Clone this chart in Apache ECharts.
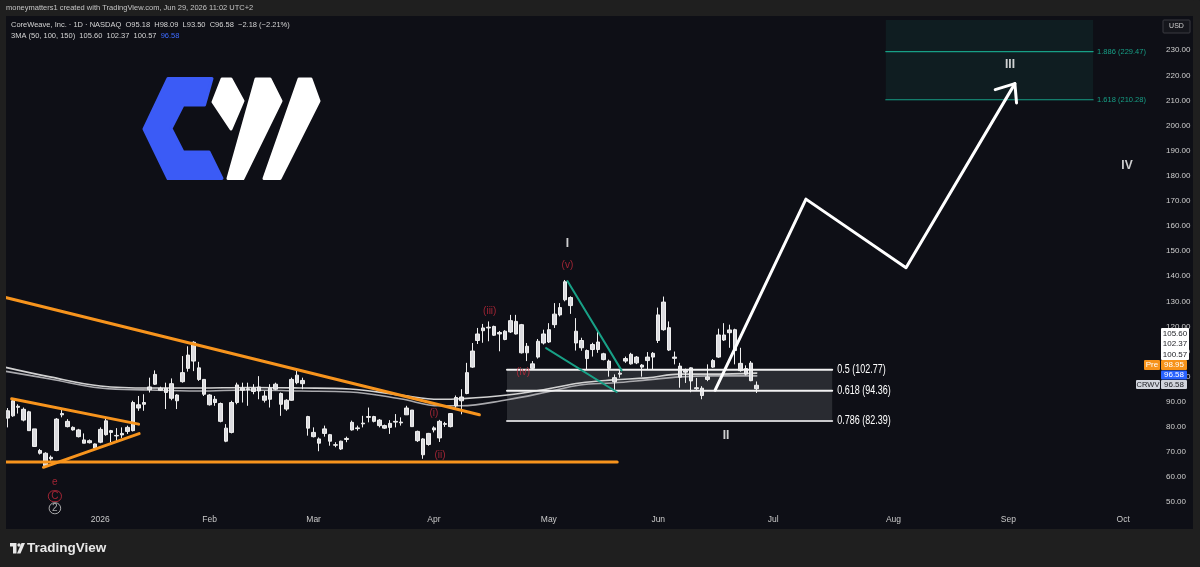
<!DOCTYPE html>
<html>
<head>
<meta charset="utf-8">
<style>
  html, body { margin: 0; padding: 0; background: #1f1f1f; }
  #main { width: 1200px; height: 567px; }
</style>
<script src="https://cdn.jsdelivr.net/npm/echarts@6/dist/echarts.min.js"></script>
</head>
<body>
<div id="main"></div>
<script>
// ---- calendar (NASDAQ trading days, first visible bar Dec 8 2025) ----
const startDay = '2025-12-08';
const dayCount = 206;
const holidays = ['2025-12-25', '2026-01-01', '2026-01-19', '2026-02-16', '2026-04-03',
                  '2026-05-25', '2026-06-19', '2026-07-03', '2026-09-07'];
const monthNames = ['2026', 'Feb', 'Mar', 'Apr', 'May', 'Jun', 'Jul', 'Aug', 'Sep', 'Oct', 'Nov', 'Dec'];

// ---- daily candles: [open, close, low, high] ----
const candles = [
  [86.4, 83.5, 79.8, 87.5], [84.4, 90.4, 84.0, 91.0], [88.2, 87.8, 85.3, 89.0], [87.0, 82.7, 82.2, 87.7],
  [86.0, 78.5, 78.5, 86.4], [79.2, 72.2, 72.0, 79.2], [70.6, 69.5, 69.0, 71.2], [69.5, 64.6, 64.0, 69.9],
  [67.3, 67.9, 66.6, 68.6], [70.6, 83.1, 70.3, 83.5], [85.3, 84.8, 83.8, 87.0], [82.2, 80.1, 79.8, 83.1],
  [79.8, 78.8, 78.5, 80.2], [78.8, 76.1, 75.8, 79.2], [74.8, 73.5, 73.5, 77.4], [74.5, 73.7, 73.4, 75.0],
  [73.2, 71.6, 71.4, 73.4], [73.9, 79.0, 73.5, 79.8], [76.9, 82.4, 76.5, 83.5], [78.5, 77.8, 73.9, 78.8],
  [76.6, 76.4, 74.3, 79.5], [76.8, 77.4, 75.6, 79.8], [78.2, 79.8, 77.2, 80.5], [78.5, 89.7, 78.2, 90.4],
  [88.8, 87.5, 86.4, 92.3], [89.0, 89.7, 86.4, 93.0], [94.8, 95.9, 93.7, 99.6], [97.0, 100.9, 96.7, 102.5],
  [95.4, 94.6, 94.3, 96.0], [95.4, 93.7, 87.1, 97.6], [91.4, 97.2, 90.6, 99.3], [92.7, 90.4, 87.1, 93.0],
  [98.0, 101.6, 97.6, 108.2], [103.3, 108.6, 102.0, 112.1], [106.2, 113.7, 102.2, 114.1], [103.5, 98.9, 98.3, 105.9],
  [98.9, 93.0, 92.3, 98.9], [92.7, 88.8, 88.5, 93.0], [91.0, 89.7, 88.4, 92.3], [89.3, 82.2, 81.8, 89.7],
  [79.5, 74.3, 73.9, 81.1], [77.8, 89.7, 77.4, 90.4], [89.7, 96.7, 89.0, 97.6], [95.4, 94.6, 89.7, 97.6],
  [94.8, 95.2, 88.4, 97.6], [95.4, 94.1, 93.0, 97.0], [94.3, 95.9, 91.0, 100.2], [92.3, 90.6, 89.7, 94.3],
  [91.0, 95.4, 87.7, 97.0], [95.0, 97.0, 94.6, 97.6], [93.3, 89.0, 84.4, 93.7], [90.6, 87.1, 86.4, 91.0],
  [90.6, 98.9, 90.4, 99.6], [97.6, 100.6, 97.0, 102.5], [98.5, 97.2, 95.0, 99.6], [84.1, 79.5, 76.5, 84.4],
  [77.8, 76.1, 75.8, 79.8], [75.2, 73.5, 70.3, 75.8], [77.4, 79.2, 76.1, 80.5], [76.9, 74.3, 72.5, 77.2],
  [72.9, 72.7, 71.9, 73.9], [74.3, 71.2, 70.8, 74.5], [75.0, 75.4, 73.9, 76.1], [78.8, 81.8, 78.5, 82.5],
  [79.3, 79.6, 78.5, 80.5], [81.2, 81.5, 79.8, 84.4], [83.8, 84.1, 81.8, 87.7], [84.1, 82.2, 81.8, 84.4],
  [82.7, 80.5, 79.8, 83.1], [80.5, 79.5, 79.2, 80.9], [79.8, 81.4, 77.2, 82.7], [81.9, 82.2, 79.8, 85.1],
  [81.6, 81.9, 80.5, 83.8], [84.8, 87.5, 84.8, 88.4], [86.7, 80.1, 80.1, 86.7], [78.2, 74.5, 74.0, 78.5],
  [75.2, 68.9, 67.3, 75.5], [73.0, 77.4, 72.5, 77.6], [78.8, 79.6, 77.8, 80.2], [75.6, 82.2, 74.0, 82.8],
  [81.0, 81.3, 80.0, 82.0], [80.1, 85.3, 79.8, 85.5], [88.4, 91.7, 87.0, 92.5], [90.4, 91.9, 85.0, 95.0],
  [93.3, 101.6, 93.0, 105.5], [103.8, 110.2, 103.5, 113.4], [114.4, 117.0, 113.0, 119.4], [118.3, 119.4, 113.5, 121.0],
  [119.4, 119.7, 114.1, 122.0], [120.0, 116.5, 116.2, 120.3], [117.0, 117.6, 110.1, 118.2], [114.8, 118.1, 114.5, 118.5],
  [117.8, 122.3, 117.4, 124.6], [122.0, 117.0, 116.8, 124.6], [120.7, 109.5, 109.2, 121.0], [109.5, 112.1, 106.2, 113.4],
  [105.1, 103.3, 102.9, 106.2], [107.8, 114.1, 107.2, 115.0], [113.4, 117.0, 112.8, 118.7], [113.8, 118.7, 113.4, 121.3],
  [120.7, 124.9, 119.4, 129.3], [124.6, 127.5, 124.0, 129.3], [130.6, 137.8, 130.0, 138.5], [131.5, 128.3, 125.0, 132.0],
  [118.1, 113.4, 110.4, 123.3], [114.4, 111.5, 110.3, 115.5], [110.4, 107.2, 102.9, 110.8], [110.8, 112.8, 108.0, 113.5],
  [110.8, 113.8, 109.5, 118.0], [109.1, 106.8, 106.5, 109.5], [106.2, 103.3, 100.0, 106.8], [99.6, 98.0, 94.6, 100.9],
  [101.0, 101.4, 99.6, 102.7], [106.2, 107.2, 105.5, 108.0], [105.1, 108.9, 104.8, 109.5], [107.8, 105.5, 105.0, 108.2],
  [104.6, 103.8, 100.0, 105.0], [106.4, 107.8, 103.0, 109.8], [107.8, 109.3, 103.0, 109.8], [114.4, 124.6, 113.4, 127.5],
  [118.7, 129.7, 118.3, 131.9], [119.5, 110.6, 110.2, 122.0], [107.8, 107.3, 104.9, 110.0], [104.2, 99.8, 95.6, 105.5],
  [102.4, 101.8, 97.5, 103.2], [103.5, 98.3, 93.8, 103.7], [95.6, 95.2, 94.3, 99.5], [95.4, 92.5, 91.0, 96.2],
  [98.9, 99.9, 98.2, 104.9], [103.8, 106.4, 103.5, 107.0], [107.8, 116.6, 107.5, 119.1], [114.6, 116.6, 114.2, 121.3],
  [117.5, 118.6, 111.5, 120.7], [118.7, 110.4, 104.9, 119.1], [105.3, 102.4, 102.0, 111.5], [103.2, 101.0, 100.5, 104.5],
  [105.4, 98.4, 98.2, 106.2], [95.18, 96.58, 93.50, 98.09]
];

// ---- moving averages (bar index -> value) ----
const maIdx  = [-0.5, 7.8, 17, 26, 35, 44, 53.5, 62.6, 71.8, 79, 82.8, 91.4, 98.7, 104.7, 110.7, 117, 123, 129, 137];
const maUpper = [103.8, 99.9, 96.3, 95.5, 95.5, 95.7, 95.5, 95.1, 92.7, 91.0, 91.2, 92.7, 95.1, 97.5, 98.7, 99.5, 101.0, 101.0, 101.4];
const maLower = [102.2, 99.1, 95.5, 94.7, 94.3, 94.7, 94.3, 93.9, 91.2, 88.4, 88.4, 90.8, 93.9, 96.7, 97.5, 98.7, 99.9, 100.3, 100.3];

// ---- drawings in [bar index, price] ----
const orangeLines = [
  [[-0.5, 131.6], [86.3, 84.8]],
  [[-0.5, 66.0], [111.5, 66.0]],
  [[0.8, 91.2], [24.0, 81.1]],
  [[6.6, 63.9], [24.1, 77.3]]
];
const tealLines = [
  [[102.4, 138.1], [112.3, 102.5]],
  [[98.5, 111.4], [111.4, 93.9]]
];
const projection = [[129.4, 94.6], [146.0, 170.7], [164.3, 143.4], [184.2, 216.7]];
const arrowHead  = [[180.6, 214.3], [184.2, 216.7], [184.5, 209.0]];

const fibFrom = 91.35, fibTo = 150.8;
const fibLevels = [102.77, 94.36, 82.39];
const fibLabels = ['0.5 (102.77)', '0.618 (94.36)', '0.786 (82.39)'];

const extFrom = 160.6, extTo = 198.5, extTop = 242;
const extLevels = [229.47, 210.28];
const extLabels = ['1.886 (229.47)', '1.618 (210.28)'];

const waveText  = ['I', '(v)', '(iii)', '(iv)', '(i)', '(ii)', 'II', 'III', 'IV', 'e', 'C', '2'];
const waveX     = [102.4, 102.4, 88.2, 94.3, 78.0, 79.1, 131.4, 183.3, 204.7, 8.7, 8.7, 8.7];
const waveY     = [152.9, 144.2, 126.0, 101.8, 85.6, 68.6, 76.5, 224.1, 184.1, 57.9, 52.4, 47.6];
const waveColor = ['#ffffff', '#c42a3c', '#c42a3c', '#c42a3c', '#c42a3c', '#c42a3c', '#ffffff', '#ffffff', '#ffffff', '#c42a3c', '#c42a3c', '#d0d0d0'];

// ---------------------------------------------------------------------
const tradingDays = (start, n) => {
  const out = [];
  const d = new Date(start + 'T12:00:00Z');
  while (out.length < n) {
    const s = d.toISOString().slice(0, 10);
    const wd = d.getUTCDay();
    if (wd !== 0 && wd !== 6 && holidays.indexOf(s) < 0) out.push(s);
    d.setUTCDate(d.getUTCDate() + 1);
  }
  return out;
};
const days = tradingDays(startDay, dayCount);
const isMonthStart = i => i > 0 && days[i].slice(5, 7) !== days[i - 1].slice(5, 7);

const FONT = 'Liberation Sans, Arial, sans-serif';
const PANEL = '#0e0f16', FRAME = '#1f1f1f';

const seg = (pts, color, width, z) => ({
  type: 'line', xAxisIndex: 1, data: pts, symbol: 'none', silent: true,
  lineStyle: { color: color, width: width, cap: 'round', join: 'round' }, z: z || 5
});

const series = [];

// fib retracement fill (under candles)
series.push({
  type: 'line', xAxisIndex: 1, data: [], z: 1, silent: true,
  markArea: {
    silent: true, itemStyle: { color: '#292b31' },
    data: [
      [{ coord: [fibFrom, fibLevels[0]] }, { coord: [fibTo, fibLevels[1]] }],
      [{ coord: [fibFrom, fibLevels[1]] }, { coord: [fibTo, fibLevels[2]] }]
    ]
  }
});
// fib extension fill
series.push({
  type: 'line', xAxisIndex: 1, data: [], z: 1, silent: true,
  markArea: {
    silent: true, itemStyle: { color: '#0f1d21' },
    data: [[{ coord: [extFrom, extTop] }, { coord: [extTo, extLevels[1]] }]]
  }
});

// moving averages
series.push(Object.assign(seg(maIdx.map((x, i) => [x, maUpper[i]]), '#d2d2d2', 1.6, 2), { smooth: 0.4 }));
series.push(Object.assign(seg(maIdx.map((x, i) => [x, maLower[i]]), '#a9a9ad', 1.6, 2), { smooth: 0.4 }));

// candles
series.push({
  type: 'candlestick', xAxisIndex: 0, data: candles, barWidth: 4, z: 3, silent: true,
  itemStyle: { color: '#dcdce0', color0: '#dcdce0', borderColor: '#f0f0f0', borderColor0: '#f0f0f0', borderWidth: 1 }
});

// fib lines (labels added as text after layout)
fibLevels.forEach((lv, k) => {
  series.push(seg([[fibFrom, lv], [fibTo, lv]], k === 2 ? '#c9c9cc' : '#f2f2f2', 2, 6));
});
extLevels.forEach((lv, k) => {
  const s = seg([[extFrom, lv], [extTo, lv]], '#179f86', 1.2, 6);
  s.endLabel = { show: true, formatter: extLabels[k], color: '#179f86', fontSize: 7.5, fontFamily: FONT, distance: 4 };
  series.push(s);
});

orangeLines.forEach(l => series.push(seg(l, '#f7941d', 3, 7)));
tealLines.forEach(l => series.push(seg(l, '#18a086', 2, 7)));
series.push(seg(projection, '#ffffff', 3, 8));
series.push(seg(arrowHead, '#ffffff', 3, 8));

// wave labels
series.push({
  type: 'scatter', xAxisIndex: 1, symbolSize: 1, z: 9, silent: true,
  itemStyle: { color: 'rgba(0,0,0,0)' },
  data: waveText.map((t, k) => {
    const roman = /^[IV]+$/.test(t);
    const circled = k >= 10;
    return {
      value: [waveX[k], waveY[k]],
      label: {
        show: true, position: 'inside', formatter: t, color: waveColor[k],
        fontFamily: FONT, fontSize: roman ? 12 : 10, fontWeight: roman ? 'bold' : 'normal',
        borderColor: circled ? waveColor[k] : 'transparent', borderWidth: circled ? 1 : 0,
        borderRadius: circled ? 6 : 0, padding: circled ? [1, 3, 0, 3] : 0
      }
    };
  })
});

// ---- static chrome: frame, legend, price tags, logos ----
const txt = (x, y, text, style) => ({
  type: 'text', x: x, y: y, z: 110, silent: true,
  style: Object.assign({ text: text, fill: '#cfcfcf', font: '8px ' + FONT, textVerticalAlign: 'middle' }, style)
});
const box = (x, y, w, h, fill, extra) => ({
  type: 'rect', z: 105, silent: true, shape: { x: x, y: y, width: w, height: h, r: 1 },
  style: Object.assign({ fill: fill }, extra)
});

const graphics = [
  box(0, 0, 1200, 16, FRAME), box(0, 0, 6, 567, FRAME), box(1193, 0, 7, 567, FRAME), box(0, 529, 1200, 38, FRAME),
  txt(6, 8, 'moneymatters1 created with TradingView.com, Jun 29, 2026 11:02 UTC+2', { fill: '#c4c4c4', font: '7.5px ' + FONT }),
  txt(11, 25, 'CoreWeave, Inc. · 1D · NASDAQ  O95.18  H98.09  L93.50  C96.58  −2.18 (−2.21%)', { fill: '#d4d4d4', font: '7.5px ' + FONT }),
  {
    type: 'text', x: 11, y: 36, z: 110, silent: true,
    style: {
      text: '{a|3MA (50, 100, 150)  105.60  102.37  100.57  }{b|96.58}', textVerticalAlign: 'middle',
      rich: { a: { fill: '#d4d4d4', font: '7.5px ' + FONT }, b: { fill: '#3d6bff', font: '7.5px ' + FONT } }
    }
  },
  // USD box
  box(1163, 20, 27, 13, '#15161c', { stroke: '#3a3b40', lineWidth: 1 }),
  txt(1176.5, 26.5, 'USD', { fill: '#d0d0d0', textAlign: 'center', font: '7px ' + FONT }),
  // price tags
  box(1161, 328, 28, 32, '#ffffff'),
  txt(1175, 333.5, '105.60', { fill: '#1b1c22', textAlign: 'center', font: '8px ' + FONT }),
  txt(1175, 344, '102.37', { fill: '#1b1c22', textAlign: 'center', font: '8px ' + FONT }),
  txt(1175, 354.5, '100.57', { fill: '#1b1c22', textAlign: 'center', font: '8px ' + FONT }),
  box(1144, 360, 16, 10, '#f7931a'),
  txt(1152, 365, 'Pre', { fill: '#ffffff', textAlign: 'center', font: '8px ' + FONT }),
  box(1161, 360, 26, 10, '#f7931a'),
  txt(1174, 365, '98.95', { fill: '#ffffff', textAlign: 'center', font: '8px ' + FONT }),
  box(1161, 370.5, 26, 9, '#2962ff'),
  txt(1174, 375, '96.58', { fill: '#ffffff', textAlign: 'center', font: '8px ' + FONT }),
  box(1136, 380, 24, 9, '#d1d4dc'),
  txt(1148, 384.5, 'CRWV', { fill: '#1b1c22', textAlign: 'center', font: '7.5px ' + FONT }),
  box(1161, 380, 26, 9, '#d1d4dc'),
  txt(1174, 384.5, '96.58', { fill: '#1b1c22', textAlign: 'center', font: '8px ' + FONT }),
  // CoreWeave logo
  { type: 'polygon', z: 104, silent: true, style: { fill: '#3b5bf6', lineJoin: 'round', stroke: '#3b5bf6', lineWidth: 3 },
    shape: { points: [[168, 78.5], [212, 78.5], [204.5, 105], [183, 105], [171, 128.5], [183, 152], [209, 152], [222, 178.5], [168, 178.5], [144, 129]] } },
  { type: 'polygon', z: 104, silent: true, style: { fill: '#ffffff', lineJoin: 'round', stroke: '#ffffff', lineWidth: 3 },
    shape: { points: [[222, 79], [231, 79], [243, 101], [231, 129], [213, 102]] } },
  { type: 'polygon', z: 104, silent: true, style: { fill: '#ffffff', lineJoin: 'round', stroke: '#ffffff', lineWidth: 3 },
    shape: { points: [[256, 79], [270, 79], [281, 101], [243, 178.5], [228, 178.5]] } },
  { type: 'polygon', z: 104, silent: true, style: { fill: '#ffffff', lineJoin: 'round', stroke: '#ffffff', lineWidth: 3 },
    shape: { points: [[299, 79], [311, 79], [319, 101], [280, 178.5], [264, 178.5]] } },
  // TradingView logo
  { type: 'polygon', z: 110, silent: true, style: { fill: '#e8e8e8' },
    shape: { points: [[10, 543], [16.5, 543], [16.5, 553.5], [13, 553.5], [13, 546.5], [10, 546.5]] } },
  { type: 'circle', z: 110, silent: true, style: { fill: '#e8e8e8' }, shape: { cx: 19, cy: 545, r: 1.7 } },
  { type: 'polygon', z: 110, silent: true, style: { fill: '#e8e8e8' },
    shape: { points: [[21.5, 543], [25, 543], [20.5, 553.5], [17, 553.5]] } },
  txt(27, 548.5, 'TradingView', { fill: '#e8e8e8', font: '600 13.5px ' + FONT })
];

const chart = echarts.init(document.getElementById('main'), null, { renderer: 'canvas' });
chart.setOption({
  animation: false,
  backgroundColor: PANEL,
  grid: { left: 4.57, right: 68.6, top: -3.56, height: 530.88 },
  xAxis: [
    {
      type: 'category', data: days, boundaryGap: true,
      axisLine: { show: false }, axisTick: { show: false }, splitLine: { show: false },
      axisLabel: {
        inside: true, margin: 3, color: '#c9c9c9', fontSize: 8.5, fontFamily: FONT,
        interval: i => isMonthStart(i),
        formatter: v => monthNames[parseInt(v.slice(5, 7), 10) - 1]
      }
    },
    { type: 'value', min: -0.5, max: dayCount - 0.5, show: false }
  ],
  yAxis: {
    type: 'value', position: 'right', min: 40, max: 250, interval: 10,
    axisLine: { show: false }, axisTick: { show: false }, splitLine: { show: false },
    axisLabel: {
      margin: 34.6, color: '#cfcfcf', fontSize: 8, fontFamily: FONT, align: 'left',
      formatter: v => (v < 50 || v > 230) ? '' : v.toFixed(2)
    }
  },
  series: series,
  graphic: graphics
});

// fib level captions, placed at the right end of each level through the axes
const fibTexts = fibLevels.map((lv, k) => {
  const p = chart.convertToPixel({ xAxisIndex: 1, yAxisIndex: 0 }, [fibTo, lv]);
  return {
    type: 'text', x: p[0] + 5, y: p[1], scaleX: 0.72, z: 110, silent: true,
    style: { text: fibLabels[k], fill: '#ffffff', font: '12.5px ' + FONT, textVerticalAlign: 'middle' }
  };
});
chart.setOption({ graphic: graphics.concat(fibTexts) });
</script>
</body>
</html>
